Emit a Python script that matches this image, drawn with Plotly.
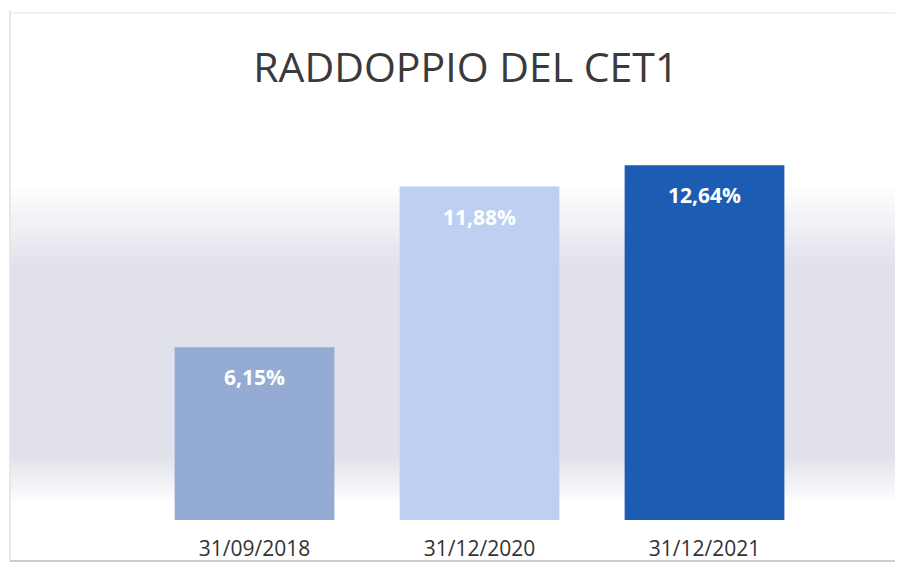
import plotly.graph_objects as go

categories = ["31/09/2018", "31/12/2020", "31/12/2021"]
values = [6.15, 11.88, 12.64]
labels = ["6,15%", "11,88%", "12,64%"]
colors = ["#94abd3", "#bdd0f1", "#1c5db3"]

FONT = "Open Sans, Lato, sans-serif"

fig = go.Figure(go.Bar(
    x=categories, y=values,
    marker=dict(color=colors, line=dict(width=0)),
    width=0.71,
    hoverinfo="skip",
))

for c, v, t in zip(categories, values, labels):
    fig.add_annotation(x=c, y=v, text=t, showarrow=False, yanchor="middle", yshift=-30,
                       font=dict(family=FONT, size=21, color="white", weight="bold"))

T, B, L, R = 119, 53, 134, 94
H, W = 565, 903
ph = H - T - B
pw = W - L - R

def py(y):
    return (H - B - y) / ph

def px(x):
    return (x - L) / pw

shapes = []
# soft bluish-gray wash behind the bars, built as nested translucent bands
n = 10
top, full_top, full_bot, bot = 180, 255, 450, 494
for i in range(n):
    y_top = top + (full_top - top) * i / (n - 1)
    y_bot = bot - (bot - full_bot) * i / (n - 1)
    shapes.append(dict(type="rect", xref="paper", yref="paper", x0=px(3), x1=px(895),
                       y0=py(y_bot), y1=py(y_top), fillcolor="rgba(115,122,170,0.024)",
                       line=dict(width=0), layer="below"))
# frame
shapes.append(dict(type="line", xref="paper", yref="paper", x0=px(2), x1=px(2), y0=py(553), y1=py(2),
                   line=dict(color="#cfcfcf", width=1), layer="below"))
shapes.append(dict(type="line", xref="paper", yref="paper", x0=px(2), x1=px(895), y0=py(553), y1=py(553),
                   line=dict(color="#bdbdbd", width=1.5), layer="below"))
shapes.append(dict(type="line", xref="paper", yref="paper", x0=px(2), x1=px(895), y0=py(5), y1=py(5),
                   line=dict(color="#e6e6e6", width=1), layer="below"))

fig.update_layout(
    width=W, height=H,
    margin=dict(l=L, r=R, t=T, b=B),
    paper_bgcolor="white", plot_bgcolor="rgba(0,0,0,0)",
    title=dict(text="RADDOPPIO DEL CET1", x=0.507, xanchor="center", y=0.895, yanchor="middle",
               font=dict(family=FONT, size=41, color="#3a3a3a")),
    xaxis=dict(showgrid=False, showline=False, zeroline=False, ticks="", ticklabelstandoff=14,
               tickfont=dict(family=FONT, size=21, color="#333333")),
    yaxis=dict(range=[0, 14], visible=False),
    showlegend=False,
    shapes=shapes,
)

fig.write_html("out.html")
